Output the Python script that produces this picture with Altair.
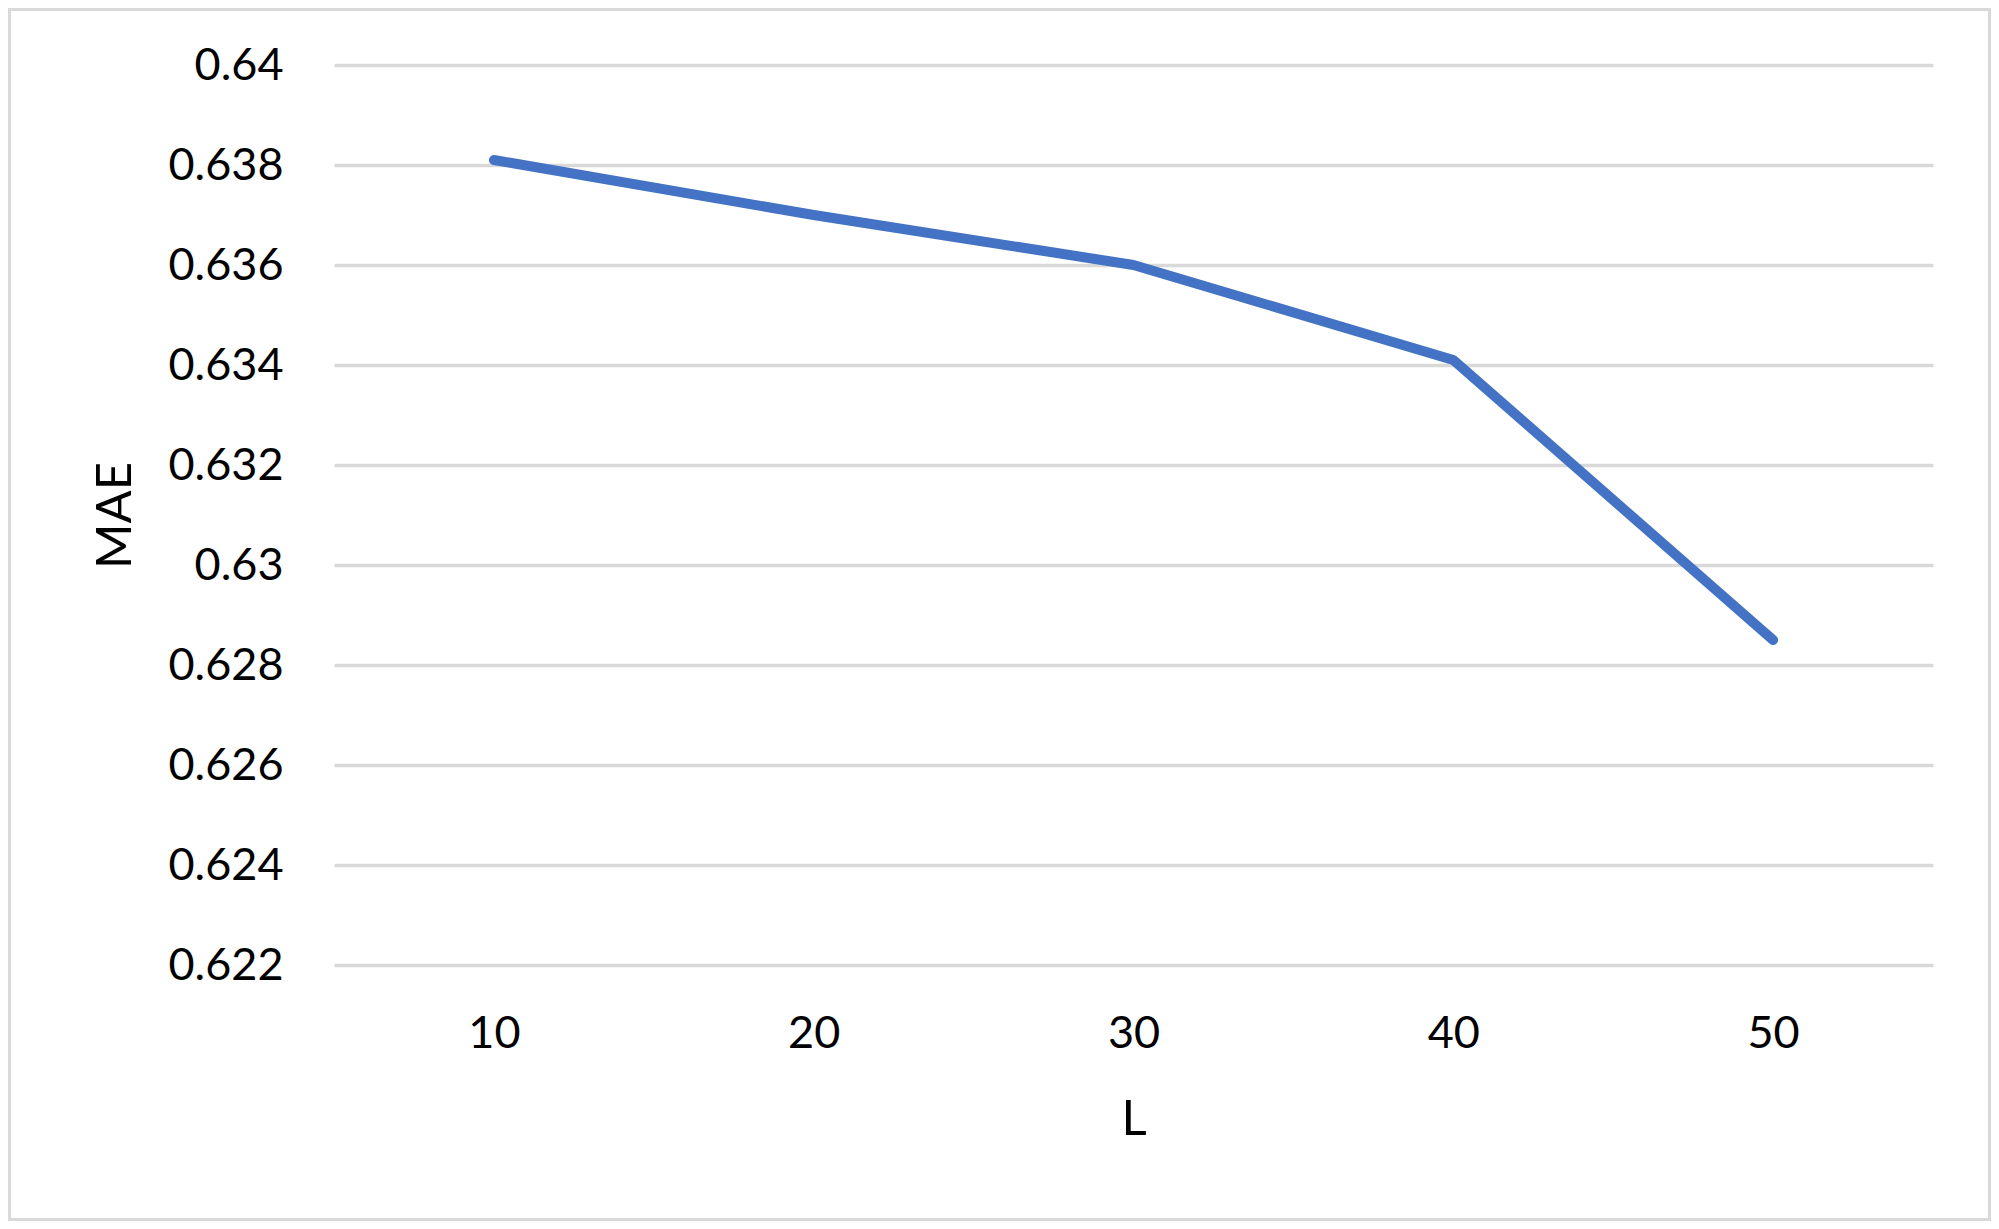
import altair as alt
import pandas as pd

L_values = [10, 20, 30, 40, 50]
mae_values = [0.6381, 0.6370, 0.6360, 0.6341, 0.6285]
y_ticks = [0.622, 0.624, 0.626, 0.628, 0.630, 0.632, 0.634, 0.636, 0.638, 0.640]

df = pd.DataFrame({"L": L_values, "MAE": mae_values})

FONT = "Lato"
W, H = 1599, 900
PAD = {"left": 326, "top": 57, "right": 58, "bottom": 256}

line = alt.Chart(df).mark_line(
    color="#4472C4", strokeWidth=10, strokeCap="round", strokeJoin="round"
).encode(
    x=alt.X("L:O", sort=L_values,
            scale=alt.Scale(type="point", padding=0.5),
            axis=alt.Axis(title="L", labelAngle=0, ticks=False, domain=False, grid=False,
                          labelFont=FONT, labelFontSize=45, labelColor="#000000",
                          labelBaseline="middle", labelPadding=68,
                          titleFont=FONT, titleFontSize=49, titleFontWeight="normal",
                          titleColor="#000000", titleBaseline="middle", titleY=154)),
    y=alt.Y("MAE:Q",
            scale=alt.Scale(domain=[0.622, 0.640], nice=False, zero=False),
            axis=alt.Axis(title="MAE", values=y_ticks, format=".3~f", ticks=False, domain=False,
                          grid=True, gridColor="#d9d9d9", gridWidth=3.5,
                          labelFont=FONT, labelFontSize=45, labelColor="#000000",
                          labelPadding=51,
                          titleFont=FONT, titleFontSize=49, titleFontWeight="normal",
                          titleColor="#000000", titleAngle=-90, titleBaseline="middle",
                          titleX=-219, titleY=H / 2)),
)

frame = alt.Chart(pd.DataFrame({"a": [0]})).mark_rect(
    fill="transparent", stroke="#d9d9d9", strokeWidth=3
).encode(
    x=alt.value(-PAD["left"] + 1.5),
    x2=alt.value(W + PAD["right"] - 1.5),
    y=alt.value(-PAD["top"] + 1.5),
    y2=alt.value(H + PAD["bottom"] - 1.5),
)

chart = alt.layer(frame, line).properties(
    width=W, height=H,
    autosize=alt.AutoSizeParams(type="none"),
    padding=PAD,
    background="white",
).configure_view(strokeWidth=0, stroke="transparent")

chart.save("out.html", embed_options={"renderer": "svg", "actions": False})
